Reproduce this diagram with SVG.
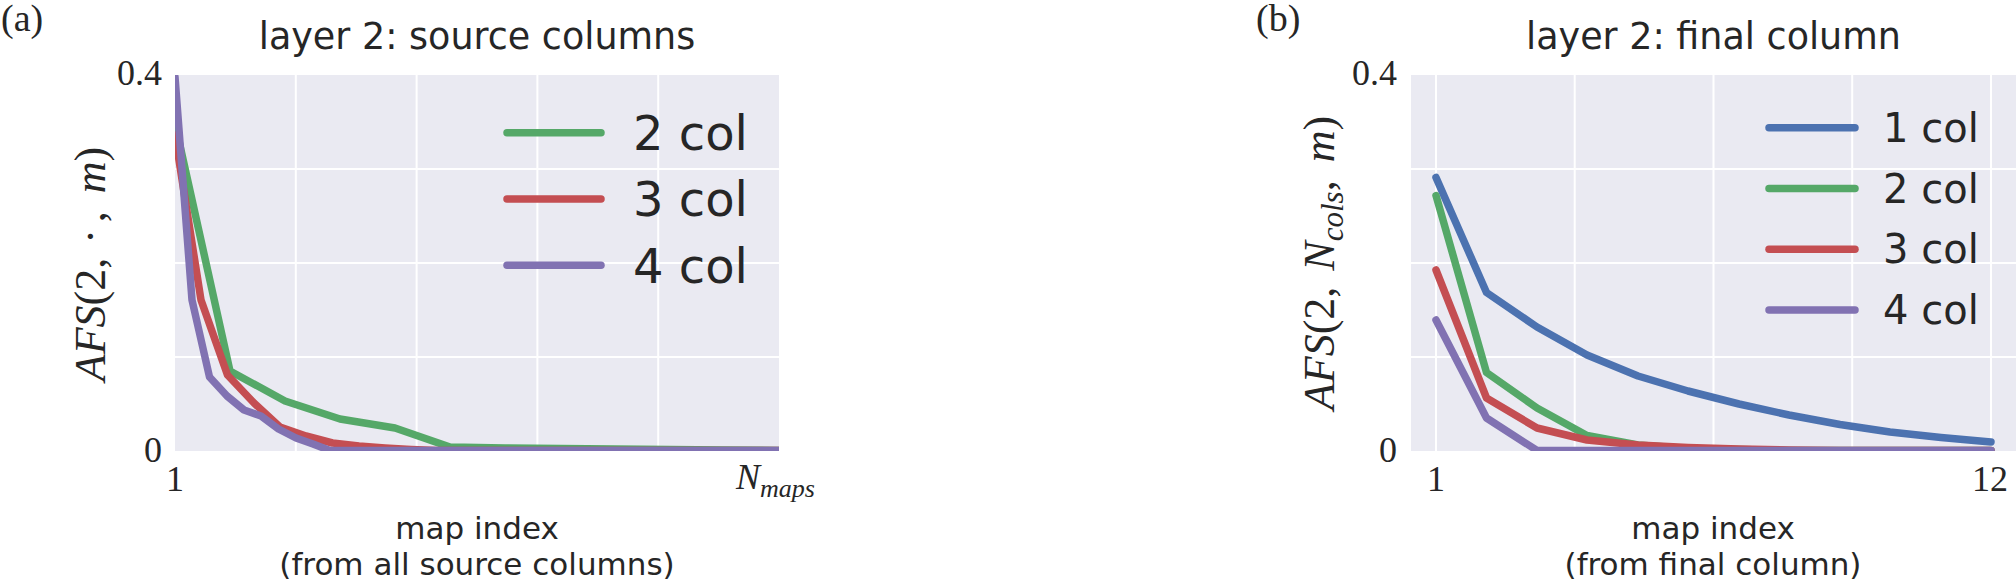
<svg xmlns="http://www.w3.org/2000/svg" width="2016" height="579" viewBox="0 0 2016 579">
<style>
.bg{fill:#EAEAF2}
.grid{stroke:#FFFFFF;stroke-width:2;fill:none}
.ln{fill:none;stroke-width:7.5;stroke-linejoin:round;stroke-linecap:round}
.blue{stroke:#4C72B0}.green{stroke:#55A868}.red{stroke:#C44E52}.purple{stroke:#8172B2}
.sans{font-family:"DejaVu Sans","Liberation Sans",sans-serif;fill:#262626}
.serif{font-family:"Liberation Serif","DejaVu Serif",serif;fill:#262626}
.title{font-size:36.5px}
.xl{font-size:31px}
.tick{font-size:36px}
.ylab{font-size:44px}
.it{font-style:italic}
.panel{font-size:38px}
</style>
<defs>
<clipPath id="clipA"><rect x="175" y="75" width="604" height="376"/></clipPath>
<clipPath id="clipB"><rect x="1411" y="75" width="605" height="376"/></clipPath>
</defs>

<g id="panel-a">
  <text class="serif panel" x="1" y="31">(a)</text>
  <text class="sans title" x="477" y="49" text-anchor="middle">layer 2: source columns</text>
  <rect class="bg" x="175" y="75" width="604" height="376"/>
  <g class="grid">
    <line x1="295.8" y1="75" x2="295.8" y2="451"/>
    <line x1="416.6" y1="75" x2="416.6" y2="451"/>
    <line x1="537.4" y1="75" x2="537.4" y2="451"/>
    <line x1="658.2" y1="75" x2="658.2" y2="451"/>
    <line x1="175" y1="169" x2="779" y2="169"/>
    <line x1="175" y1="263" x2="779" y2="263"/>
    <line x1="175" y1="357" x2="779" y2="357"/>
  </g>
  <g id="series-a" clip-path="url(#clipA)">
    <polyline id="a-2col" class="ln green" points="175,123 230,371 285,401 340,419 395,428 450,447 505,448 560,448.5 614,449 669,449.5 724,450 779,450.5"/>
    <polyline id="a-3col" class="ln red" points="175,135 201,300 227.5,375 254,403 280,427 306,436 332.5,443 359,446 385,448 411,449.5 437,450.5 779,450.5"/>
    <polyline id="a-4col" class="ln purple" points="175,77 192,300 209.5,377 227,396 244,410 261,416 278.5,429 296,438 313,444 330,450.5 779,450.5"/>
  </g>
  <g id="legend-a" class="sans" font-size="48">
    <line class="ln green" x1="507" y1="132.7" x2="601" y2="132.7"/>
    <text x="633" y="150">2 col</text>
    <line class="ln red" x1="507" y1="199" x2="601" y2="199"/>
    <text x="633" y="216.3">3 col</text>
    <line class="ln purple" x1="507" y1="265.3" x2="601" y2="265.3"/>
    <text x="633" y="282.6">4 col</text>
  </g>
  <g id="ticks-a" class="serif tick">
    <text x="162" y="85" text-anchor="end">0.4</text>
    <text x="162" y="462" text-anchor="end">0</text>
    <text x="175" y="491" text-anchor="middle">1</text>
    <text x="736" y="489"><tspan class="it">N</tspan><tspan class="it" font-size="26" dy="8">maps</tspan></text>
  </g>
  <text class="serif ylab" transform="translate(105,264) rotate(-90)" text-anchor="middle"><tspan class="it">AFS</tspan>(2,<tspan dx="14">·</tspan><tspan dx="7">,</tspan><tspan class="it" dx="18">m</tspan>)</text>
  <text class="sans xl" x="477" y="539" text-anchor="middle">map index</text>
  <text class="sans xl" x="477" y="575" text-anchor="middle">(from all source columns)</text>
</g>

<g id="panel-b">
  <text class="serif panel" x="1256" y="31">(b)</text>
  <text class="sans title" x="1713.5" y="49" text-anchor="middle">layer 2: final column</text>
  <rect class="bg" x="1411" y="75" width="605" height="376"/>
  <g class="grid">
    <line x1="1436" y1="75" x2="1436" y2="451"/>
    <line x1="1574.7" y1="75" x2="1574.7" y2="451"/>
    <line x1="1713.5" y1="75" x2="1713.5" y2="451"/>
    <line x1="1852.2" y1="75" x2="1852.2" y2="451"/>
    <line x1="1991" y1="75" x2="1991" y2="451"/>
    <line x1="1411" y1="169" x2="2016" y2="169"/>
    <line x1="1411" y1="263" x2="2016" y2="263"/>
    <line x1="1411" y1="357" x2="2016" y2="357"/>
  </g>
  <g id="series-b" clip-path="url(#clipB)">
    <polyline id="b-1col" class="ln blue" points="1436,177.5 1486.5,292.5 1537,327 1587,355 1638,376 1688,391 1739,404 1789,415 1840,424.5 1890,432 1941,437.5 1991,442"/>
    <polyline id="b-2col" class="ln green" points="1436,195.5 1486.5,372.5 1537,408 1587,435.5 1638,445 1688,448.5 1739,449.5 1789,450.5 1991,450.5"/>
    <polyline id="b-3col" class="ln red" points="1436,270 1486.5,398 1537,428 1587,440 1638,445 1688,447.5 1739,449 1789,450 1840,450.5 1991,450.5"/>
    <polyline id="b-4col" class="ln purple" points="1436,320 1486.5,418 1537,450.5 1991,450.5"/>
  </g>
  <g id="legend-b" class="sans" font-size="40">
    <line class="ln blue" x1="1769" y1="127.7" x2="1855" y2="127.7"/>
    <text x="1883" y="141.7">1 col</text>
    <line class="ln green" x1="1769" y1="188.5" x2="1855" y2="188.5"/>
    <text x="1883" y="202.5">2 col</text>
    <line class="ln red" x1="1769" y1="249.3" x2="1855" y2="249.3"/>
    <text x="1883" y="263.3">3 col</text>
    <line class="ln purple" x1="1769" y1="310" x2="1855" y2="310"/>
    <text x="1883" y="324">4 col</text>
  </g>
  <g id="ticks-b" class="serif tick">
    <text x="1397" y="85" text-anchor="end">0.4</text>
    <text x="1397" y="462" text-anchor="end">0</text>
    <text x="1436" y="491" text-anchor="middle">1</text>
    <text x="1990" y="491" text-anchor="middle">12</text>
  </g>
  <text class="serif ylab" transform="translate(1334,263) rotate(-90)" text-anchor="middle"><tspan class="it">AFS</tspan>(2,<tspan class="it" dx="16">N</tspan><tspan class="it" font-size="31" dy="9">cols</tspan><tspan dy="-9">,</tspan><tspan class="it" dx="18">m</tspan>)</text>
  <text class="sans xl" x="1713" y="539" text-anchor="middle">map index</text>
  <text class="sans xl" x="1713" y="575" text-anchor="middle">(from final column)</text>
</g>
</svg>
